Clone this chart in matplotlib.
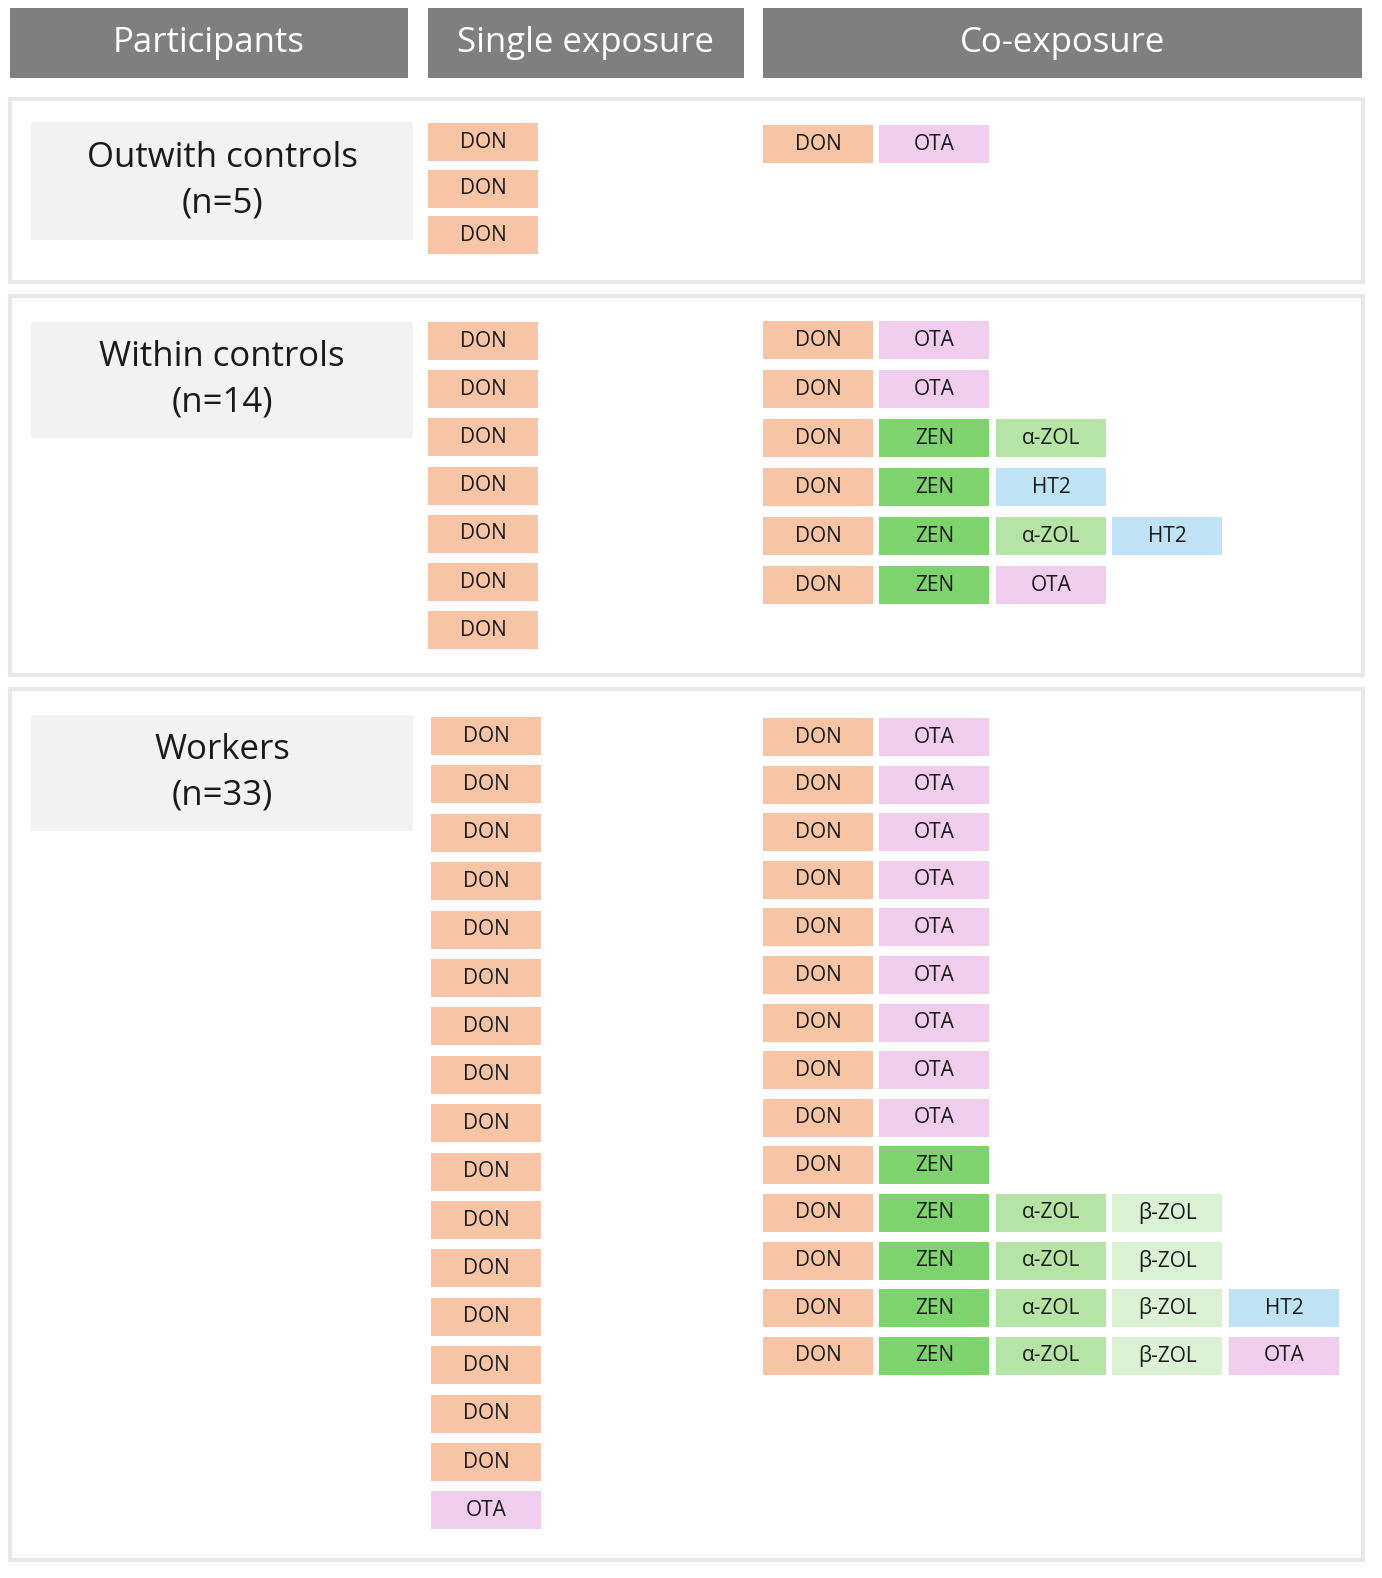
import matplotlib.pyplot as plt
from matplotlib.patches import Rectangle

# data
headers = ["Participants", "Single exposure", "Co-exposure"]
groups = ["Outwith controls\n(n=5)", "Within controls\n(n=14)", "Workers\n(n=33)"]

single_outwith = ["DON", "DON", "DON"]
single_within = ["DON"] * 7
single_workers = ["DON"] * 16 + ["OTA"]

co_outwith = [["DON", "OTA"]]
co_within = [
    ["DON", "OTA"],
    ["DON", "OTA"],
    ["DON", "ZEN", "α-ZOL"],
    ["DON", "ZEN", "HT2"],
    ["DON", "ZEN", "α-ZOL", "HT2"],
    ["DON", "ZEN", "OTA"],
]
co_workers = [["DON", "OTA"]] * 9 + [
    ["DON", "ZEN"],
    ["DON", "ZEN", "α-ZOL", "β-ZOL"],
    ["DON", "ZEN", "α-ZOL", "β-ZOL"],
    ["DON", "ZEN", "α-ZOL", "β-ZOL", "HT2"],
    ["DON", "ZEN", "α-ZOL", "β-ZOL", "OTA"],
]

colors = {
    "DON": "#f7c4a6",
    "OTA": "#f0cdec",
    "ZEN": "#7ed36e",
    "α-ZOL": "#b6e3a6",
    "β-ZOL": "#daf2d3",
    "HT2": "#bfe3f4",
}

# layout (pixels)
W, H = 1382, 1578
header_x = [(10, 408), (428, 744), (763, 1362)]
panels = [(99, 282), (296, 675), (689, 1560)]
label_y = [(122, 240), (322, 438), (715, 831)]
single_x = [428, 428, 431]
single_start = [123, 322, 717]
single_pitch = [46.5, 48.2, 48.4]
co_start = [125, 321, 718]
co_pitch = [47, 49, 47.6]
co_x0, co_dx, box_w, box_h = 763, 116.5, 110, 38

singles = [single_outwith, single_within, single_workers]
cos = [co_outwith, co_within, co_workers]

fig = plt.figure(figsize=(W / 100, H / 100), dpi=100)
ax = fig.add_axes([0, 0, 1, 1])
ax.set_xlim(0, W)
ax.set_ylim(H, 0)
ax.axis("off")

font = ["Open Sans", "DejaVu Sans"]


def box(x, y, w, h, color, text, size=15, tcolor="#1a1a1a", **kw):
    ax.add_patch(Rectangle((x, y), w, h, facecolor=color, edgecolor="none", **kw))
    if text:
        ax.text(x + w / 2, y + h / 2, text, ha="center", va="center",
                fontsize=size, color=tcolor, family=font, linespacing=1.45)


for (x0, x1), name in zip(header_x, headers):
    box(x0, 8, x1 - x0, 70, "#7f7f7f", name, size=25, tcolor="white")

for i, (y0, y1) in enumerate(panels):
    ax.add_patch(Rectangle((10, y0), 1353, y1 - y0, facecolor="white",
                           edgecolor="#e8e8e8", linewidth=3))
    ly0, ly1 = label_y[i]
    box(31, ly0, 382, ly1 - ly0, "#f2f2f2", groups[i], size=25)

    for j, tox in enumerate(singles[i]):
        box(single_x[i], single_start[i] + j * single_pitch[i], box_w, box_h,
            colors[tox], tox)

    for r, row in enumerate(cos[i]):
        for c, tox in enumerate(row):
            box(co_x0 + c * co_dx, co_start[i] + r * co_pitch[i], box_w, box_h,
                colors[tox], tox)

plt.savefig("out.png", dpi=100)
